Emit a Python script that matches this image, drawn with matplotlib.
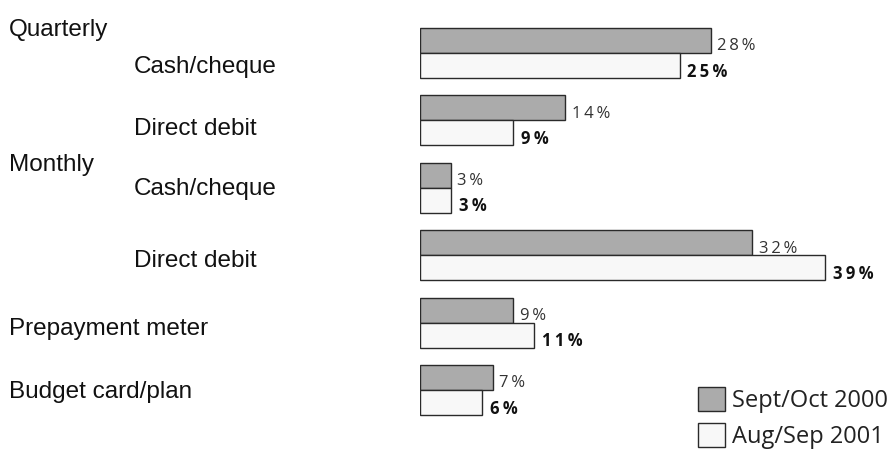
import numpy as np
import matplotlib
matplotlib.use("Agg")
import matplotlib.pyplot as plt
import matplotlib.transforms as mtransforms
from matplotlib.patches import Patch

# data
groups = ["Cash/cheque", "Direct debit", "Cash/cheque", "Direct debit",
          "Prepayment meter", "Budget card/plan"]
levels = [1, 1, 1, 1, 0, 0]          # 1 = indented sub label
headers = {"Quarterly": 0, "Monthly": 2}
sept_oct_2000 = [28, 14, 3, 32, 9, 7]
aug_sep_2001 = [25, 9, 3, 39, 11, 6]
series_names = ["Sept/Oct 2000", "Aug/Sep 2001"]

W, H = 895, 449
fig = plt.figure(figsize=(W / 100, H / 100), dpi=100)
ax = fig.add_axes([420 / W, 0, 472.5 / W, 1])

y = np.arange(len(groups))
h = 0.371
gray = "#ababab"
white = "#f8f8f8"
edge = "#2a2a2a"

ax.barh(y - h / 2, sept_oct_2000, height=h, color=gray, edgecolor=edge, linewidth=1.0)
ax.barh(y + h / 2, aug_sep_2001, height=h, color=white, edgecolor=edge, linewidth=1.0)

ax.set_xlim(0, 45.5)
ax.set_ylim(5.875, -0.786)
ax.axis("off")


def spaced(s):
    return "\u2009".join(s)


# value labels
val_font = dict(family=["Open Sans", "DejaVu Sans"], fontsize=12, va="baseline", ha="left")
for i in range(len(groups)):
    ax.text(sept_oct_2000[i] + 0.6, y[i] - 0.04, spaced(f"{sept_oct_2000[i]}%"),
            color="#333333", **val_font)
    ax.text(aug_sep_2001[i] + 0.75, y[i] + 0.35, spaced(f"{aug_sep_2001[i]}%"),
            fontweight="bold", color="#111111", **val_font)

# category labels
trans = mtransforms.blended_transform_factory(fig.transFigure, ax.transData)
lab_font = dict(family="Liberation Sans", fontsize=17.5, color="#111111", va="baseline")
label_dy = [0.29, 0.21, 0.11, 0.18, 0.18, 0.12]
for i, name in enumerate(groups):
    x = 134 / W if levels[i] else 9 / W
    ax.text(x, y[i] + label_dy[i], name, transform=trans, **lab_font)
for name, gi in headers.items():
    ax.text(9 / W, gi - 0.25, name, transform=trans, **lab_font)

# legend
handles = [Patch(facecolor=gray, edgecolor=edge, linewidth=1.0),
           Patch(facecolor=white, edgecolor=edge, linewidth=1.0)]
leg = fig.legend(handles, series_names, loc="upper left",
                 bbox_to_anchor=(698 / W, 1 - 387 / H), frameon=False,
                 prop=dict(family="Open Sans", size=17), borderpad=0,
                 handlelength=1.15, handleheight=1.2, labelspacing=0.42,
                 handletextpad=0.3, borderaxespad=0)
for t in leg.get_texts():
    t.set_color("#222222")

fig.savefig("out.png", dpi=100)
